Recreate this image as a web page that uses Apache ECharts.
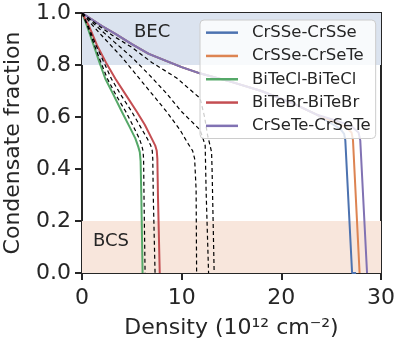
<!DOCTYPE html>
<html><head><meta charset="utf-8">
<script src="https://cdn.jsdelivr.net/npm/echarts@6/dist/echarts.min.js"></script>
<style>html,body{margin:0;padding:0;background:#fff}#c{width:400px;height:350px}</style>
</head><body><div id="c"></div>
<script>
// ---- data ----
const seriesNames = ['CrSSe-CrSSe', 'CrSSe-CrSeTe', 'BiTeCl-BiTeCl', 'BiTeBr-BiTeBr', 'CrSeTe-CrSeTe'];
const seriesColors = ['#4c72b0', '#dd8452', '#55a868', '#c44e52', '#8172b3'];

// CrSSe-CrSSe (blue)
const blueX = [0, 1, 2, 3.35, 5, 6.7, 8.5, 10, 11.9, 14.9, 18, 21, 23.5, 25.0, 25.9, 26.3, 26.42, 27.1, 27.5];
const blueY = [1, 0.975, 0.95, 0.92, 0.88, 0.843, 0.815, 0.792, 0.767, 0.736, 0.70, 0.655, 0.61, 0.575, 0.555, 0.535, 0.51, 0, 0];
// CrSSe-CrSeTe (orange)
const orangeX = [0, 1, 2, 3.35, 5, 6.7, 8.5, 10, 11.9, 14.9, 18, 21, 23.5, 25.3, 26.5, 27.05, 27.19, 27.85];
const orangeY = [1, 0.975, 0.95, 0.92, 0.88, 0.843, 0.815, 0.792, 0.767, 0.736, 0.70, 0.655, 0.61, 0.58, 0.56, 0.54, 0.51, 0];
// BiTeCl-BiTeCl (green)
const greenX = [0, 0.5, 1.17, 1.75, 2.34, 3.1, 4.0, 4.8, 5.36, 5.65, 5.8, 5.88, 5.95, 6.08];
const greenY = [1, 0.95, 0.876, 0.81, 0.747, 0.69, 0.62, 0.56, 0.517, 0.485, 0.465, 0.43, 0.3, 0];
// BiTeBr-BiTeBr (red)
const redX = [0, 0.7, 1.5, 2.4, 3.35, 4.4, 5.5, 6.3, 7.0, 7.35, 7.5, 7.56, 7.62, 7.8];
const redY = [1, 0.95, 0.876, 0.81, 0.747, 0.685, 0.62, 0.57, 0.517, 0.49, 0.47, 0.44, 0.3, 0];
// CrSeTe-CrSeTe (purple)
const purpleX = [0, 1, 2, 3.35, 5, 6.7, 8.5, 10, 11.9, 14.9, 18, 21, 23.5, 25.6, 27.0, 27.75, 27.92, 28.6];
const purpleY = [1, 0.975, 0.95, 0.92, 0.88, 0.843, 0.815, 0.792, 0.767, 0.736, 0.70, 0.655, 0.61, 0.585, 0.565, 0.54, 0.51, 0];

// dashed black reference curves
const dash1X = [0, 0.55, 1.25, 1.9, 2.55, 3.4, 4.4, 5.2, 5.75, 6.0, 6.12, 6.18, 6.22, 6.33];
const dash1Y = [1, 0.95, 0.876, 0.81, 0.747, 0.685, 0.62, 0.56, 0.517, 0.49, 0.47, 0.44, 0.3, 0];
const dash2X = [0, 0.62, 1.4, 2.2, 2.95, 3.9, 5.0, 5.9, 6.55, 6.9, 7.05, 7.1, 7.15, 7.33];
const dash2Y = [1, 0.95, 0.876, 0.81, 0.747, 0.685, 0.62, 0.56, 0.517, 0.49, 0.47, 0.44, 0.3, 0];
const dash3X = [0, 1, 2.3, 4, 5.5, 7, 8.5, 9.84, 10.6, 11.1, 11.3, 11.45, 11.5];
const dash3Y = [1, 0.955, 0.9, 0.83, 0.76, 0.69, 0.62, 0.55, 0.5, 0.47, 0.44, 0.32, 0];
const dash4X = [0, 1, 3.2, 5, 6.8, 8.5, 10, 11.2, 11.85, 12.2, 12.36, 12.45, 12.7];
const dash4Y = [1, 0.965, 0.89, 0.83, 0.76, 0.69, 0.62, 0.575, 0.55, 0.51, 0.49, 0.32, 0];
const dash5X = [0, 1, 3, 5, 7, 9.5, 11.85, 12.3, 12.6, 12.85, 13.0, 13.05, 13.26];
const dash5Y = [1, 0.97, 0.915, 0.868, 0.81, 0.75, 0.672, 0.6, 0.53, 0.49, 0.465, 0.4, 0];

// regime bands and labels
const becBand = [0.8, 1.0];
const bcsBand = [0.0, 0.2];
const becLabelPos = [7.03, 0.927];
const bcsLabelPos = [1.1, 0.123];

const xTicks = [0, 10, 20, 30];
const yTicks = [0, 0.2, 0.4, 0.6, 0.8, 1.0];

// ---- chart ----
const FONT = 'DejaVu Sans';
const TXT = '#262626';
const pairs = (xs, ys) => xs.map((x, i) => [x, ys[i]]);

const colored = [
  [blueX, blueY], [orangeX, orangeY], [greenX, greenY], [redX, redY]
];
const dashed = [[dash1X, dash1Y], [dash2X, dash2Y], [dash3X, dash3Y], [dash4X, dash4Y], [dash5X, dash5Y]];

const series = [];
series.push({
  type: 'line', data: [], silent: true, z: 0,
  markArea: {
    silent: true,
    data: [
      [{ xAxis: xTicks[0], yAxis: becBand[0], itemStyle: { color: '#dbe3ef' } }, { xAxis: xTicks[xTicks.length - 1], yAxis: becBand[1] }],
      [{ xAxis: xTicks[0], yAxis: bcsBand[0], itemStyle: { color: '#f8e6dc' } }, { xAxis: xTicks[xTicks.length - 1], yAxis: bcsBand[1] }]
    ]
  }
});
dashed.forEach(([xs, ys]) => series.push({
  type: 'line', data: pairs(xs, ys), showSymbol: false, silent: true,
  lineStyle: { color: '#000', width: 1.2, type: [4, 3] }, z: 3
}));
colored.forEach(([xs, ys], i) => series.push({
  name: seriesNames[i], type: 'line', data: pairs(xs, ys), showSymbol: false,
  color: seriesColors[i], lineStyle: { width: 2 }, z: 2
}));
series.push({
  name: seriesNames[4], type: 'line', data: pairs(purpleX, purpleY), showSymbol: false,
  color: seriesColors[4], lineStyle: { width: 2 }, z: 2
});
series.push({
  type: 'scatter', symbolSize: 0, silent: true, z: 10,
  data: [{ value: becLabelPos, label: { formatter: 'BEC', position: 'inside' } },
         { value: bcsLabelPos, label: { formatter: 'BCS', position: 'right', distance: 0 } }],
  label: { show: true, fontSize: 18, color: TXT, opacity: 1, fontFamily: FONT },
  itemStyle: { opacity: 1 }
});

const chart = echarts.init(document.getElementById('c'));
chart.setOption({
  animation: false,
  textStyle: { fontFamily: FONT },
  grid: { left: 82, right: 19, top: 13, bottom: 77, outerBoundsMode: 'none', containLabel: false,
          show: true, borderColor: TXT, borderWidth: 2, backgroundColor: 'transparent' },
  xAxis: {
    type: 'value', min: xTicks[0], max: xTicks[xTicks.length - 1], interval: 10,
    name: 'Density (10¹² cm⁻²)', nameLocation: 'middle', nameGap: 44,
    nameTextStyle: { fontSize: 22, color: TXT, fontFamily: FONT },
    axisLine: { lineStyle: { color: TXT, width: 2 } },
    axisTick: { show: true, length: 7, lineStyle: { color: TXT, width: 2 } },
    axisLabel: { fontSize: 22, color: TXT, margin: 14, fontFamily: FONT },
    splitLine: { show: false }
  },
  yAxis: {
    type: 'value', min: yTicks[0], max: yTicks[yTicks.length - 1], interval: 0.2,
    name: 'Condensate fraction', nameLocation: 'middle', nameGap: 58, nameRotate: 90,
    nameTextStyle: { fontSize: 22, color: TXT, fontFamily: FONT },
    axisLine: { lineStyle: { color: TXT, width: 2 } },
    axisTick: { show: true, length: 7, lineStyle: { color: TXT, width: 2 } },
    axisLabel: { fontSize: 22, color: TXT, margin: 11, fontFamily: FONT, formatter: v => v.toFixed(1) },
    splitLine: { show: false }
  },
  legend: {
    data: seriesNames, orient: 'vertical', left: 200, top: 20,
    icon: 'rect', itemWidth: 32, itemHeight: 2.5, itemGap: 0,
    padding: [1, 5, 1, 6],
    backgroundColor: 'rgba(255,255,255,0.8)', borderColor: '#cccccc', borderWidth: 1, borderRadius: 4,
    textStyle: { fontSize: 16.5, lineHeight: 23.3, color: TXT, fontFamily: FONT, padding: [0, 0, 0, 9] }
  },
  series: series
});
</script></body></html>
